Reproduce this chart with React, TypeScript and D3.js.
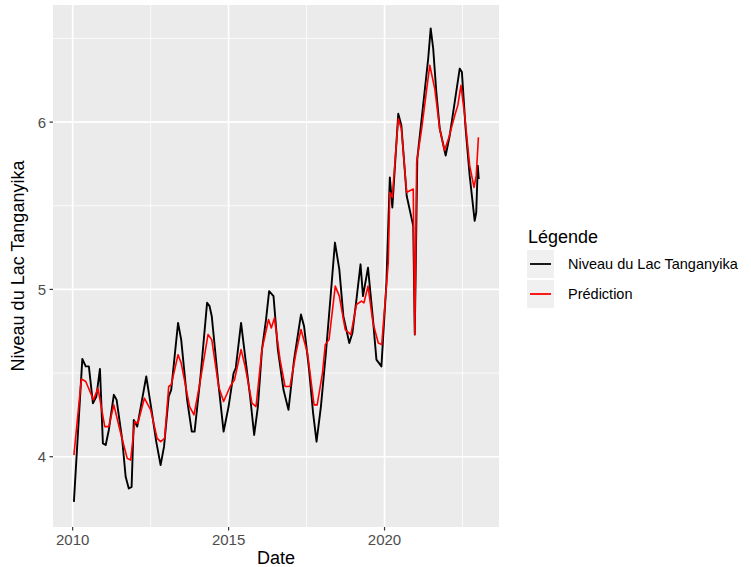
import React from 'react';
import * as d3 from 'd3';

// observed lake level (decimal year, level)
const obsYears = [
  2010.04, 2010.31, 2010.42, 2010.52, 2010.65, 2010.76, 2010.875, 2010.97, 2011.06, 2011.16,
  2011.32, 2011.41, 2011.59, 2011.70, 2011.80, 2011.89, 2011.96, 2012.07, 2012.36, 2012.52,
  2012.68, 2012.82, 2012.93, 2013.08, 2013.16, 2013.38, 2013.48, 2013.67, 2013.82, 2013.91,
  2014.10, 2014.31, 2014.39, 2014.46, 2014.66, 2014.84, 2015.00, 2015.16, 2015.23, 2015.40,
  2015.53, 2015.69, 2015.82, 2015.94, 2016.07, 2016.20, 2016.30, 2016.44, 2016.58, 2016.76,
  2016.92, 2017.10, 2017.32, 2017.42, 2017.58, 2017.71, 2017.82, 2017.96, 2018.12, 2018.28,
  2018.41, 2018.55, 2018.68, 2018.87, 2018.97, 2019.10, 2019.23, 2019.31, 2019.47, 2019.63,
  2019.74, 2019.90, 2020.06, 2020.17, 2020.25, 2020.44, 2020.54, 2020.71, 2020.92, 2020.97,
  2021.05, 2021.19, 2021.40, 2021.48, 2021.56, 2021.66, 2021.77, 2021.96, 2022.09, 2022.25,
  2022.41, 2022.48, 2022.60, 2022.73, 2022.89, 2022.94, 2022.99, 2023.02,
];
const obsLevels = [
  3.73, 4.585, 4.54, 4.54, 4.32, 4.36, 4.525, 4.08, 4.07, 4.16,
  4.37, 4.34, 4.10, 3.88, 3.81, 3.82, 4.22, 4.18, 4.48, 4.29,
  4.09, 3.95, 4.06, 4.36, 4.40, 4.80, 4.70, 4.34, 4.15, 4.15,
  4.48, 4.92, 4.90, 4.84, 4.46, 4.15, 4.30, 4.50, 4.53, 4.80,
  4.60, 4.36, 4.13, 4.30, 4.64, 4.82, 4.99, 4.96, 4.64, 4.40,
  4.28, 4.58, 4.85, 4.78, 4.52, 4.26, 4.09, 4.30, 4.62, 4.98,
  5.28, 5.12, 4.84, 4.68, 4.74, 4.94, 5.15, 4.96, 5.13, 4.82,
  4.58, 4.54, 5.04, 5.67, 5.49, 6.05, 5.98, 5.56, 5.38, 4.73,
  5.78, 6.02, 6.38, 6.56, 6.44, 6.18, 5.96, 5.80, 5.92, 6.12,
  6.32, 6.30, 5.96, 5.68, 5.41, 5.46, 5.74, 5.66,
];

// model prediction
const predYears = [
  2010.04, 2010.28, 2010.42, 2010.67, 2010.81, 2011.03, 2011.16, 2011.32, 2011.54, 2011.75,
  2011.86, 2011.99, 2012.09, 2012.30, 2012.50, 2012.71, 2012.82, 2012.95, 2013.08, 2013.16,
  2013.38, 2013.48, 2013.75, 2013.89, 2014.07, 2014.34, 2014.46, 2014.68, 2014.84, 2015.05,
  2015.19, 2015.40, 2015.53, 2015.75, 2015.88, 2016.07, 2016.28, 2016.37, 2016.47, 2016.65,
  2016.81, 2016.97, 2017.16, 2017.32, 2017.53, 2017.74, 2017.84, 2018.01, 2018.10, 2018.22,
  2018.42, 2018.55, 2018.74, 2018.92, 2019.10, 2019.26, 2019.34, 2019.47, 2019.63, 2019.80,
  2019.91, 2020.12, 2020.17, 2020.25, 2020.44, 2020.54, 2020.71, 2020.81, 2020.92, 2020.97,
  2021.03, 2021.19, 2021.45, 2021.61, 2021.77, 2021.92, 2022.05, 2022.25, 2022.35, 2022.45,
  2022.57, 2022.73, 2022.87, 2022.94, 2023.01,
];
const predLevels = [
  4.01, 4.465, 4.45, 4.34, 4.41, 4.18, 4.18, 4.31, 4.14, 3.99,
  3.98, 4.21, 4.20, 4.35, 4.28, 4.11, 4.09, 4.11, 4.42, 4.43,
  4.61, 4.56, 4.30, 4.25, 4.43, 4.73, 4.70, 4.42, 4.33, 4.42,
  4.46, 4.64, 4.54, 4.32, 4.30, 4.64, 4.82, 4.77, 4.83, 4.58,
  4.42, 4.42, 4.62, 4.76, 4.62, 4.31, 4.31, 4.50, 4.67, 4.70,
  5.02, 4.96, 4.76, 4.73, 4.91, 4.93, 4.92, 5.02, 4.80, 4.68,
  4.67, 5.16, 5.58, 5.55, 6.02, 5.96, 5.58, 5.59, 5.60, 4.73,
  5.76, 5.96, 6.34, 6.20, 5.96, 5.83, 5.90, 6.04, 6.10, 6.22,
  6.04, 5.74, 5.61, 5.68, 5.91,
];

const xMajor = [2010, 2015, 2020];
const xMinor = [2012.5, 2017.5, 2022.5];
const yMajor = [4, 5, 6];
const yMinor = [4.5, 5.5, 6.5];

const legendItems = [
  { label: 'Niveau du Lac Tanganyika', color: '#000000' },
  { label: 'Prédiction', color: '#FF0000' },
];

const W = 751;
const H = 567;
const panel = { left: 53, right: 499, top: 5, bottom: 527 };
const font = 'Liberation Sans, Arial, Helvetica, sans-serif';

export default function App() {
  const x = d3.scaleLinear().domain([2009.37, 2023.67]).range([panel.left, panel.right]);
  const y = d3.scaleLinear().domain([3.58, 6.7]).range([panel.bottom, panel.top]);

  const line = d3.line<[number, number]>().x(d => x(d[0])).y(d => y(d[1]));
  const obs = obsYears.map((t, i) => [t, obsLevels[i]] as [number, number]);
  const pred = predYears.map((t, i) => [t, predLevels[i]] as [number, number]);

  return (
    <svg width={W} height={H} style={{ position: 'absolute', left: 0, top: 0, background: '#fff' }} fontFamily={font}>
      <rect x={panel.left} y={panel.top} width={panel.right - panel.left} height={panel.bottom - panel.top} fill="#EBEBEB" />

      {/* minor grid */}
      {xMinor.map(v => (
        <line key={'xm' + v} x1={x(v)} x2={x(v)} y1={panel.top} y2={panel.bottom} stroke="#fff" strokeWidth={0.8} />
      ))}
      {yMinor.map(v => (
        <line key={'ym' + v} x1={panel.left} x2={panel.right} y1={y(v)} y2={y(v)} stroke="#fff" strokeWidth={0.8} />
      ))}
      {/* major grid */}
      {xMajor.map(v => (
        <line key={'xM' + v} x1={x(v)} x2={x(v)} y1={panel.top} y2={panel.bottom} stroke="#fff" strokeWidth={1.6} />
      ))}
      {yMajor.map(v => (
        <line key={'yM' + v} x1={panel.left} x2={panel.right} y1={y(v)} y2={y(v)} stroke="#fff" strokeWidth={1.6} />
      ))}

      <path d={line(obs) || ''} fill="none" stroke="#000" strokeWidth={1.9} strokeLinejoin="round" />
      <path d={line(pred) || ''} fill="none" stroke="#FF0000" strokeWidth={1.6} strokeLinejoin="round" />

      {/* x axis */}
      {xMajor.map(v => (
        <g key={'xt' + v}>
          <line x1={x(v)} x2={x(v)} y1={panel.bottom} y2={panel.bottom + 3.5} stroke="#333" strokeWidth={1.2} />
          <text x={x(v)} y={545} textAnchor="middle" fontSize={15} fill="#4D4D4D">{v}</text>
        </g>
      ))}
      <text x={(panel.left + panel.right) / 2} y={564} textAnchor="middle" fontSize={18} fill="#000">Date</text>

      {/* y axis */}
      {yMajor.map(v => (
        <g key={'yt' + v}>
          <line x1={panel.left - 3.5} x2={panel.left} y1={y(v)} y2={y(v)} stroke="#333" strokeWidth={1.2} />
          <text x={46} y={y(v)} dy="0.36em" textAnchor="end" fontSize={15} fill="#4D4D4D">{v}</text>
        </g>
      ))}
      <text
        transform={`translate(24,${(panel.top + panel.bottom) / 2}) rotate(-90)`}
        textAnchor="middle"
        fontSize={18}
        fill="#000"
      >
        Niveau du Lac Tanganyika
      </text>

      {/* legend */}
      <text x={528} y={243} fontSize={18} fill="#000">Légende</text>
      {legendItems.map((d, i) => {
        const cy = 264 + i * 30;
        return (
          <g key={d.label}>
            <rect x={527} y={cy - 14} width={27} height={28} fill="#F0F0F0" />
            <line x1={530} x2={551} y1={cy} y2={cy} stroke={d.color} strokeWidth={1.8} />
            <text x={568} y={cy} dy="0.36em" fontSize={14.5} fill="#000">{d.label}</text>
          </g>
        );
      })}
    </svg>
  );
}
